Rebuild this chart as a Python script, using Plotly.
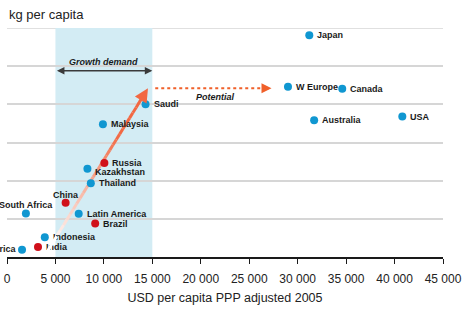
import plotly.graph_objects as go

# Data
blue_names = ["Japan", "W Europe", "Canada", "Australia", "USA", "Saudi", "Malaysia",
              "Kazakhstan", "Thailand", "South Africa", "Latin America", "Indonesia", "Africa"]
blue_x = [31200, 29000, 34600, 31700, 40800, 14300, 9900, 8300, 8650, 1950, 7400, 3900, 1550]
blue_y = [5.81, 4.46, 4.41, 3.58, 3.68, 4.00, 3.48, 2.31, 1.93, 1.14, 1.13, 0.52, 0.19]

red_names = ["Russia", "China", "Brazil", "India"]
red_x = [10050, 6050, 9100, 3200]
red_y = [2.46, 1.42, 0.88, 0.26]

# label placement style (anchor, x offset px, y offset px)
label_style = {
    "Kazakhstan": ("left", 6, -3),
    "South Africa": ("center", 0, 8),
    "China": ("center", 0, 8),
    "Africa": ("right", -3, 1),
    "Brazil": ("left", 6, -1),
}

growth_band = [5000, 15000]
growth_arrow_y = 4.88
trend_start = [3800, 0.0]
trend_end = [14550, 4.42]
potential_x = [15300, 27300]
potential_y = 4.42

x_ticks = [0, 5000, 10000, 15000, 20000, 25000, 30000, 35000, 40000, 45000]
x_tick_labels = ["0", "5 000", "10 000", "15 000", "20 000", "25 000", "30 000",
                 "35 000", "40 000", "45 000"]

BLUE = "#1097d1"
RED = "#d0101a"
ORANGE = (242, 104, 66)
FONT = "Liberation Sans, Arial, sans-serif"

fig = go.Figure()

# Shaded growth band
fig.add_shape(type="rect", xref="x", yref="y", x0=growth_band[0], x1=growth_band[1],
              y0=0, y1=6, fillcolor="#d3ecf4", line_width=0, layer="below")
# top gridline
fig.add_shape(type="line", xref="paper", yref="y", x0=0, x1=1, y0=6, y1=6,
              line=dict(color="#d6d6d6", width=1.5), layer="below")

# Gradient trend line (white -> orange) as short line traces
n = 30
dx = (trend_end[0] - trend_start[0]) * 0.95
dy = (trend_end[1] - trend_start[1]) * 0.95
xs_pts = [trend_start[0] + dx * i / n for i in range(n + 1)]
ys_pts = [trend_start[1] + dy * i / n for i in range(n + 1)]
for i in range(n):
    f = (i + 0.5) / n
    k = min(1, max(0, (f - 0.08) * 1.45))
    r = int(255 + (ORANGE[0] - 255) * k)
    g = int(255 + (ORANGE[1] - 255) * k)
    b = int(255 + (ORANGE[2] - 255) * k)
    fig.add_trace(go.Scatter(x=[xs_pts[i], xs_pts[i + 1]], y=[ys_pts[i], ys_pts[i + 1]],
                             mode="lines", line=dict(color=f"rgb({r},{g},{b})", width=3),
                             hoverinfo="skip", showlegend=False, cliponaxis=False))

fig.add_annotation(x=trend_end[0], y=trend_end[1],
                   ax=trend_start[0] + (trend_end[0] - trend_start[0]) * 0.9,
                   ay=trend_start[1] + (trend_end[1] - trend_start[1]) * 0.9,
                   xref="x", yref="y", axref="x", ayref="y", text="", showarrow=True,
                   arrowhead=2, arrowsize=1.1, arrowwidth=2.5,
                   arrowcolor=f"rgb({ORANGE[0]},{ORANGE[1]},{ORANGE[2]})")

# Potential dotted arrow
fig.add_trace(go.Scatter(x=[potential_x[0], potential_x[1] - 500], y=[potential_y, potential_y],
                         mode="lines", line=dict(color="#f0602a", width=2, dash="dot"),
                         hoverinfo="skip", showlegend=False))
fig.add_annotation(x=potential_x[1], y=potential_y, ax=potential_x[1] - 900, ay=potential_y,
                   xref="x", yref="y", axref="x", ayref="y", text="", showarrow=True,
                   arrowhead=2, arrowsize=1, arrowwidth=2, arrowcolor="#f0602a")
fig.add_annotation(x=(potential_x[0] + potential_x[1]) / 2 + 200, y=potential_y - 0.23,
                   text="<b><i>Potential</i></b>", showarrow=False,
                   font=dict(family=FONT, size=9, color="#1a1a1a"))

# Growth demand double arrow
fig.add_annotation(x=growth_band[1], y=growth_arrow_y, ax=growth_band[0], ay=growth_arrow_y,
                   xref="x", yref="y", axref="x", ayref="y", text="", showarrow=True,
                   arrowhead=2, startarrowhead=2, arrowside="end+start", arrowsize=1,
                   arrowwidth=1.5, arrowcolor="#3a3a3a")
fig.add_annotation(x=sum(growth_band) / 2, y=growth_arrow_y + 0.24,
                   text="<b><i>Growth demand</i></b>", showarrow=False,
                   font=dict(family=FONT, size=9, color="#1a1a1a"))

# Markers
fig.add_trace(go.Scatter(x=blue_x, y=blue_y, mode="markers",
                         marker=dict(color=BLUE, size=8), showlegend=False, cliponaxis=False))
fig.add_trace(go.Scatter(x=red_x, y=red_y, mode="markers",
                         marker=dict(color=RED, size=8), showlegend=False, cliponaxis=False))

# Labels
for names, xs, ys in ((blue_names, blue_x, blue_y), (red_names, red_x, red_y)):
    for nm, xv, yv in zip(names, xs, ys):
        anchor, xs_, ys_ = label_style.get(nm, ("left", 6, 0))
        fig.add_annotation(x=xv, y=yv, text=f"<b>{nm}</b>", showarrow=False,
                           xanchor=anchor, yanchor="middle", xshift=xs_, yshift=ys_,
                           font=dict(family=FONT, size=9, color="#1a1a1a"))

# white tail of the trend line, drawn over labels and axis
tail = 0.13
fig.add_annotation(x=trend_start[0] + dx * tail, y=trend_start[1] + dy * tail,
                   ax=trend_start[0], ay=trend_start[1],
                   xref="x", yref="y", axref="x", ayref="y", text="", showarrow=True,
                   arrowhead=0, arrowwidth=3, standoff=0, startstandoff=0,
                   arrowcolor="white")

fig.update_layout(
    width=463, height=311,
    margin=dict(l=7, r=20, t=28, b=54, autoexpand=False),
    paper_bgcolor="white", plot_bgcolor="white",
    font=dict(family=FONT, color="#222222"),
    xaxis=dict(range=[0, 45000], tickvals=x_ticks, ticktext=x_tick_labels,
               showgrid=False, zeroline=False, showline=True, linecolor="#1a1a1a",
               linewidth=1.5, ticks="outside", ticklen=5, tickcolor="#1a1a1a",
               tickfont=dict(size=12, color="#222222"), automargin=False,
               ticklabelstandoff=5,
               title=dict(text="USD per capita PPP adjusted 2005", font=dict(size=12.5),
                          standoff=8)),
    yaxis=dict(range=[0, 6], dtick=1, showgrid=True, gridcolor="#d6d6d6", gridwidth=1.5,
               showticklabels=False, zeroline=False, showline=False, automargin=False),
    showlegend=False,
)
fig.add_annotation(x=0, y=1, xref="paper", yref="paper", xanchor="left", yanchor="bottom",
                   yshift=4, text="kg per capita", showarrow=False,
                   font=dict(family=FONT, size=13, color="#222222"))

fig.write_html("out.html", config={"displayModeBar": False},
               post_script="document.body.style.margin='0';")
